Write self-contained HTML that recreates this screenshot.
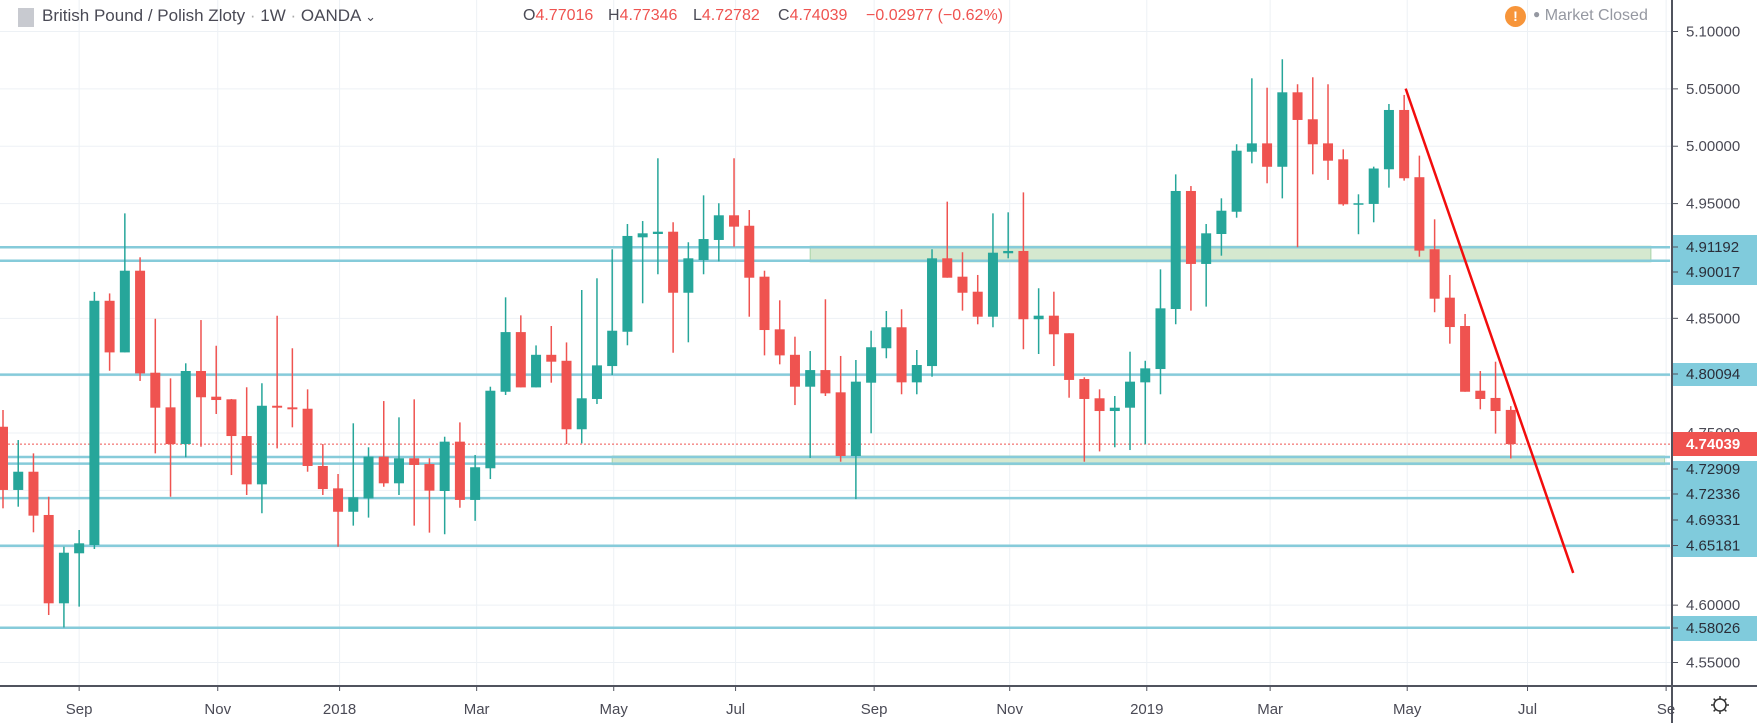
<!DOCTYPE html>
<html><head><meta charset="utf-8"><style>
body{margin:0;background:#fff;width:1757px;height:723px;overflow:hidden;font-family:"Liberation Sans",sans-serif;}
#wrap{position:relative;width:1757px;height:723px;}
svg{position:absolute;left:0;top:0;}
.hdr{position:absolute;top:6px;font-size:17px;color:#4a4a55;white-space:nowrap;}
.v{color:#ef5350}
</style></head><body>
<div id="wrap">
<svg id="chart" width="1757" height="723"></svg>
<div class="hdr" style="left:18px;top:8px;width:16px;height:19px;background:#c8cad0;"></div>
<div class="hdr" style="left:42px">British Pound / Polish Zloty <span style="color:#aaa">·</span> 1W <span style="color:#aaa">·</span> OANDA <span style="font-size:13px">⌄</span></div>
<div class="hdr" style="left:523px;font-size:16px;top:7px">O<span class="v">4.77016</span></div>
<div class="hdr" style="left:608px;font-size:16px;top:7px">H<span class="v">4.77346</span></div>
<div class="hdr" style="left:693px;font-size:16px;top:7px">L<span class="v">4.72782</span></div>
<div class="hdr" style="left:778px;font-size:16px;top:7px">C<span class="v">4.74039</span></div>
<div class="hdr v" style="left:866px;font-size:16px;top:7px">−0.02977 (−0.62%)</div>
<div style="position:absolute;left:1505px;top:6px;width:21px;height:21px;border-radius:50%;background:#f7953a;color:#fff;font-size:14px;font-weight:bold;text-align:center;line-height:21px">!</div>
<div class="hdr" style="left:1533px;font-size:16px;top:7px;color:#9598a1"><span style="font-size:12px;vertical-align:2px">●</span> Market Closed</div>
</div>
<script>
const opens=[4.7555,4.7004,4.7163,4.6786,4.6016,4.6452,4.6524,4.8653,4.8203,4.8915,4.8026,4.7724,4.7404,4.8041,4.7817,4.7794,4.7474,4.7053,4.7738,4.7724,4.7712,4.7213,4.7018,4.6814,4.6931,4.7294,4.7062,4.7280,4.7230,4.6995,4.7425,4.6917,4.7193,4.7860,4.8380,4.7898,4.8182,4.8130,4.7533,4.7797,4.8084,4.8383,4.9206,4.9235,4.9255,4.8723,4.9008,4.9183,4.9398,4.9307,4.8863,4.8404,4.8182,4.7904,4.8049,4.7855,4.7300,4.7939,4.8239,4.8422,4.7942,4.8084,4.9023,4.8863,4.8732,4.8514,4.9067,4.9087,4.8492,4.8523,4.8370,4.7971,4.7803,4.7692,4.7721,4.7942,4.8058,4.8581,4.9610,4.8974,4.9235,4.9429,4.9952,5.0025,4.9821,5.0470,5.0235,5.0025,4.9886,4.9494,4.9497,4.9799,5.0316,4.9730,4.9102,4.8680,4.8433,4.7869,4.7806,4.77016];
const highs=[4.7701,4.7439,4.7323,4.6945,4.6509,4.6655,4.8731,4.8717,4.9415,4.9032,4.8496,4.7977,4.8108,4.8485,4.8261,4.7797,4.7899,4.7934,4.8522,4.8239,4.7881,4.7404,4.7143,4.7585,4.7376,4.7779,4.7637,4.7794,4.7280,4.7468,4.7593,4.7309,4.7904,4.8683,4.8526,4.8264,4.8433,4.8290,4.8747,4.8849,4.9102,4.9322,4.9348,4.9895,4.9337,4.9163,4.9572,4.9503,4.9895,4.9444,4.8915,4.8657,4.8340,4.8215,4.8666,4.8172,4.8137,4.8392,4.8564,4.8579,4.8224,4.9102,4.9517,4.9076,4.8878,4.9415,4.9424,4.9598,4.8762,4.8732,4.8370,4.7986,4.7881,4.7823,4.8209,4.8130,4.8927,4.9755,4.9653,4.9322,4.9546,5.0017,5.0592,5.0510,5.0758,5.0540,5.0601,5.0540,4.9973,4.9581,4.9822,5.0368,5.0447,4.9918,4.9363,4.8878,4.8538,4.8041,4.8122,4.77346];
const lows=[4.6844,4.6858,4.6635,4.5914,4.5805,4.5987,4.6489,4.8043,4.8203,4.7954,4.7323,4.6945,4.7289,4.7381,4.7666,4.7134,4.6960,4.6801,4.7367,4.7550,4.7163,4.6960,4.6509,4.6693,4.6763,4.7032,4.6960,4.6693,4.6632,4.6618,4.6849,4.6735,4.7099,4.7832,4.7898,4.7898,4.7939,4.7404,4.7410,4.7753,4.8006,4.8265,4.8631,4.8884,4.8200,4.8291,4.8884,4.8997,4.9125,4.8514,4.8177,4.8099,4.7744,4.7283,4.7823,4.7250,4.6924,4.7498,4.8152,4.7838,4.7838,4.7991,4.8854,4.8567,4.8448,4.8422,4.9023,4.8230,4.8189,4.8084,4.7808,4.7250,4.7340,4.7376,4.7352,4.7402,4.7838,4.8448,4.8567,4.8602,4.9046,4.9377,4.9851,4.9677,4.9546,4.9119,4.9755,4.9706,4.9482,4.9233,4.9337,4.9639,4.9700,4.9037,4.8553,4.8279,4.7860,4.7707,4.7495,4.72782];
const closes=[4.7004,4.7163,4.6780,4.6016,4.6457,4.6539,4.8653,4.8203,4.8915,4.8020,4.7721,4.7404,4.8041,4.7812,4.7788,4.7474,4.7053,4.7738,4.7721,4.7707,4.7213,4.7012,4.6814,4.6940,4.7294,4.7062,4.7280,4.7222,4.6998,4.7425,4.6917,4.7202,4.7869,4.8380,4.7898,4.8182,4.8122,4.7533,4.7803,4.8090,4.8392,4.9218,4.9241,4.9255,4.8723,4.9023,4.9191,4.9398,4.9299,4.8854,4.8398,4.8177,4.7904,4.8049,4.7846,4.7300,4.7948,4.8248,4.8422,4.7942,4.8093,4.9023,4.8854,4.8723,4.8514,4.9072,4.9087,4.8492,4.8523,4.8361,4.7963,4.7797,4.7692,4.7721,4.7948,4.8064,4.8587,4.9610,4.8974,4.9241,4.9438,4.9961,5.0025,4.9821,5.0470,5.0229,5.0017,4.9874,4.9494,4.9503,4.9806,5.0316,4.9721,4.9090,4.8671,4.8424,4.7860,4.7797,4.7692,4.74039];
const priceTicks=[5.10,5.05,5.00,4.95,4.90,4.85,4.80,4.75,4.70,4.65,4.60,4.55];
const levels=[4.91192,4.90017,4.80094,4.72909,4.72336,4.69331,4.65181,4.58026];
const monthLabels=["Sep","Nov","2018","Mar","May","Jul","Sep","Nov","2019","Mar","May","Jul","Se"];
const monthIndex=[5.0,14.1,22.1,31.1,40.1,48.1,57.2,66.1,75.1,83.2,92.2,100.1,109.2];
const lastPrice=4.74039;
const zoneUpper=[4.91192,4.90017];
const zoneLower=[4.72909,4.72336];
const trend=[[92.1,5.0502],[103.1,4.6281]];

const NS="http://www.w3.org/2000/svg";
const svg=document.getElementById('chart');
const PW=1672, AX=686;
function y(p){return 31.5+(5.10-p)*1147.3;}
function x(i){return 3+i*15.23;}
function el(t,a,parent){const e=document.createElementNS(NS,t);for(const k in a)e.setAttribute(k,a[k]);(parent||svg).appendChild(e);return e;}

// grid
priceTicks.forEach(p=>{const g=el('line',{x1:0,x2:PW,y1:y(p),y2:y(p),stroke:'#edf1f5','stroke-width':1});

});
monthIndex.forEach(m=>{const g=el('line',{x1:x(m),x2:x(m),y1:0,y2:AX,stroke:'#edf1f5','stroke-width':1});

});

// zones
function zone(z,i0,i1,name){const r=el('rect',{x:x(i0),y:y(z[0])-1,width:x(i1)-x(i0),height:y(z[1])-y(z[0])+2,fill:'#d5e8cf',stroke:'#a8d4a8','stroke-width':1});

}
zone(zoneUpper,53,108.2,'upper-support-zone');
zone(zoneLower,40,109.1,'lower-support-zone');

// levels
levels.forEach(p=>{const l=el('line',{x1:0,x2:1670,y1:y(p),y2:y(p),stroke:'#86cbda','stroke-width':2.5});

});

// last price line
const lp=el('line',{x1:0,x2:PW,y1:y(lastPrice),y2:y(lastPrice),stroke:'#ef5350','stroke-width':1,'stroke-dasharray':'2,2'});



// candles
for(let i=0;i<opens.length;i++){
  const up=closes[i]>=opens[i];const c=up?'#26a69a':'#ef5350';
  const g=el('g',{});
  
  
  el('line',{x1:x(i),x2:x(i),y1:y(highs[i]),y2:y(lows[i]),stroke:c,'stroke-width':1.5},g);
  const t=y(Math.max(opens[i],closes[i])),b=y(Math.min(opens[i],closes[i]));
  el('rect',{x:x(i)-5,y:t,width:10,height:Math.max(1.5,b-t),fill:c},g);
}

// trendline
const tl=el('line',{x1:x(trend[0][0]),y1:y(trend[0][1]),x2:x(trend[1][0]),y2:y(trend[1][1]),stroke:'#f20d0d','stroke-width':2.5});



// axes
const xa=el('line',{x1:0,x2:1757,y1:AX,y2:AX,stroke:'#50535e','stroke-width':2});


const ya=el('line',{x1:PW,x2:PW,y1:0,y2:723,stroke:'#50535e','stroke-width':2});



monthLabels.forEach((m,k)=>{const xx=x(monthIndex[k]);
el('line',{x1:xx,x2:xx,y1:AX,y2:AX+5,stroke:'#50535e','stroke-width':1});
const t=el('text',{x:xx,y:714,'text-anchor':'middle','font-size':15,fill:'#4a4a55','font-family':'Liberation Sans, sans-serif'});
t.textContent=m;

});

priceTicks.forEach(p=>{el('line',{x1:PW,x2:PW+6,y1:y(p),y2:y(p),stroke:'#50535e','stroke-width':1});
const t=el('text',{x:1686,y:y(p)+5,'font-size':15,fill:'#4a4a55','font-family':'Liberation Sans, sans-serif'});
t.textContent=p.toFixed(5);

});

// level label boxes
const boxes=[[235,285],[363,386],[461,557],[616,641]];
boxes.forEach(b=>{const r=el('rect',{x:PW+1,y:b[0],width:1757-PW,height:b[1]-b[0],fill:'#80cbdc'});

});
const lblPrice=[4.91192,4.90017,4.80094,4.72909,4.72336,4.69331,4.65181,4.58026];
const lblY=[247,272,374,469,494,520,545.5,628];
lblPrice.forEach((p,k)=>{el('line',{x1:PW,x2:PW+6,y1:lblY[k],y2:lblY[k],stroke:'#50535e','stroke-width':1});
const t=el('text',{x:1686,y:lblY[k]+5,'font-size':15,fill:'#2a2e39','font-family':'Liberation Sans, sans-serif'});
t.textContent=p.toFixed(5);

});
const rb=el('rect',{x:PW+1,y:432,width:1757-PW,height:24,fill:'#ef5350'});


const rt=el('text',{x:1686,y:449,'font-size':15,fill:'#fff','font-weight':'bold','font-family':'Liberation Sans, sans-serif'});
rt.textContent=lastPrice.toFixed(5);



// gear
const gear=el('g',{});


el('circle',{cx:1720,cy:705,r:6,fill:'none',stroke:'#333','stroke-width':1.5},gear);
for(let a=0;a<8;a++){const an=a*Math.PI/4;el('line',{x1:1720+Math.cos(an)*6,y1:705+Math.sin(an)*6,x2:1720+Math.cos(an)*9,y2:705+Math.sin(an)*9,stroke:'#333','stroke-width':1.5},gear);}
</script>
</body></html>
